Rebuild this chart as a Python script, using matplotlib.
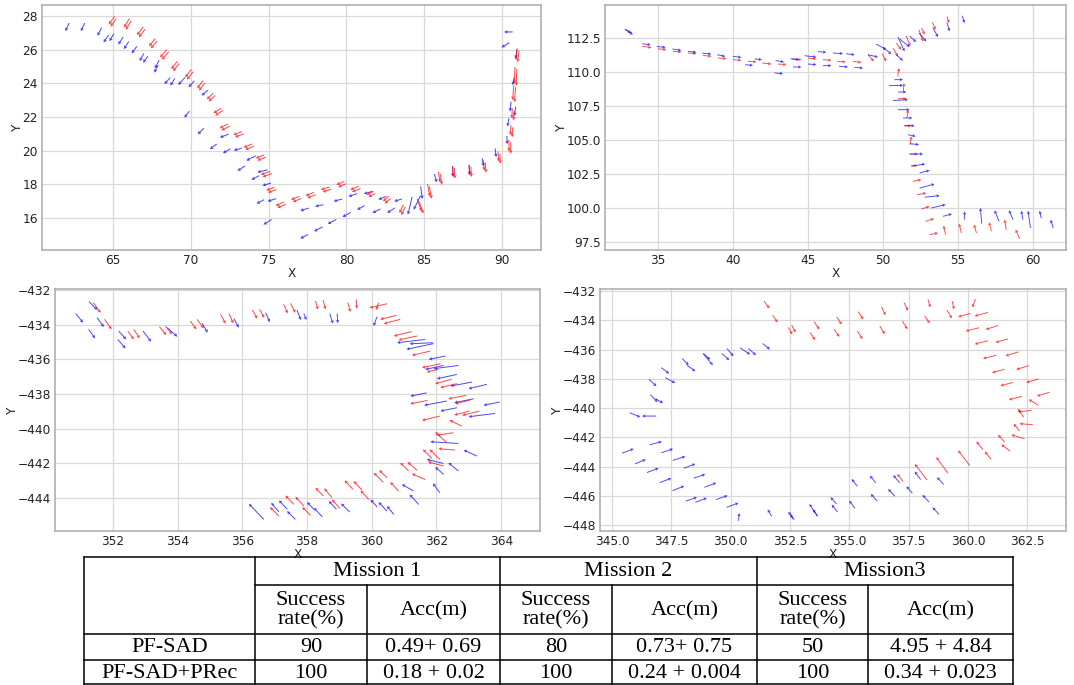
import matplotlib
matplotlib.use("Agg")
import matplotlib.pyplot as plt
from matplotlib.ticker import MultipleLocator, ScalarFormatter
from matplotlib.transforms import ScaledTranslation

# ---------------- data: panel 1 ----------------
p1_blue_x = [61.95, 62.95, 64.01, 64.40, 64.78, 65.35, 65.71, 66.21, 66.72, 66.94, 67.69, 67.65, 68.31, 68.69, 69.20, 69.86, 70.70, 69.59, 70.45, 71.23, 71.87, 72.07, 72.77, 73.00, 73.57, 73.90, 74.28, 74.61, 74.23, 74.94, 74.67, 77.04, 77.92, 78.80, 79.75, 80.68, 81.67, 82.62, 77.04, 77.99, 79.18, 80.13, 81.12, 82.05, 83.07, 83.95, 84.32, 84.88, 85.80, 86.86, 87.92, 88.81, 89.62, 90.33, 90.35, 90.80, 90.51, 90.68, 90.88, 90.13, 89.96]
p1_blue_y = [27.09, 27.09, 26.82, 26.42, 26.50, 26.30, 26.03, 25.77, 25.32, 25.22, 24.88, 24.63, 23.95, 23.86, 23.90, 23.76, 23.26, 21.96, 20.97, 20.09, 20.78, 19.85, 20.01, 18.80, 19.41, 18.27, 18.72, 17.92, 16.85, 16.99, 15.61, 14.78, 15.21, 15.65, 16.06, 16.49, 16.30, 16.30, 16.43, 16.69, 16.99, 17.28, 17.44, 17.09, 16.99, 16.20, 16.49, 17.13, 18.11, 18.43, 18.53, 19.06, 19.61, 20.38, 21.43, 22.06, 22.32, 23.89, 25.47, 27.05, 26.13]
p1_blue_u = [-0.24, -0.24, -0.27, -0.33, -0.29, -0.31, -0.31, -0.33, -0.27, -0.31, -0.29, -0.27, -0.38, -0.29, -0.44, -0.38, -0.40, -0.33, -0.40, -0.44, -0.57, -0.49, -0.51, -0.51, -0.60, -0.49, -0.66, -0.55, -0.49, -0.55, -0.53, -0.49, -0.55, -0.55, -0.53, -0.49, -0.51, -0.49, -0.55, -0.53, -0.55, -0.55, -0.55, -0.51, -0.49, -0.27, -0.44, 0.11, 0.15, 0.04, 0.04, 0.09, 0.07, 0.02, -0.09, -0.07, -0.07, -0.09, -0.07, -0.55, -0.51]
p1_blue_v = [-0.49, -0.49, -0.49, -0.45, -0.45, -0.45, -0.45, -0.43, -0.45, -0.39, -0.49, -0.45, -0.39, -0.43, -0.45, -0.39, -0.34, -0.39, -0.36, -0.30, -0.20, -0.26, -0.14, -0.30, -0.28, -0.24, -0.14, -0.16, -0.24, -0.16, -0.30, -0.24, -0.26, -0.26, -0.28, -0.24, -0.24, -0.30, -0.16, -0.10, -0.14, -0.16, -0.14, -0.20, -0.14, -1.05, -0.83, -0.75, -0.51, -0.63, -0.63, -0.49, -0.53, -0.49, -0.49, -0.55, -0.59, -0.45, -0.53, 0.0, -0.28]

p1_red_x = [64.73, 65.71, 66.55, 67.32, 68.03, 68.75, 69.64, 70.41, 71.03, 71.45, 71.85, 72.73, 73.39, 74.17, 74.50, 74.85, 75.45, 76.44, 77.37, 78.36, 79.36, 80.24, 81.30, 82.34, 83.40, 84.83, 85.36, 86.02, 86.86, 87.92, 88.85, 89.78, 90.44, 90.53, 90.62, 90.68, 90.79, 90.88]
p1_red_y = [27.49, 27.31, 26.86, 26.20, 25.53, 24.84, 24.35, 23.70, 23.05, 22.22, 21.33, 20.93, 20.18, 19.55, 18.57, 17.64, 16.73, 17.09, 17.32, 17.68, 17.97, 17.68, 17.38, 16.99, 16.30, 16.40, 17.28, 18.11, 18.47, 18.57, 18.82, 19.36, 19.95, 20.93, 21.92, 23.01, 23.99, 25.38]
p1_red_u = [-0.38, -0.35, -0.40, -0.40, -0.44, -0.40, -0.40, -0.38, -0.42, -0.51, -0.55, -0.55, -0.55, -0.55, -0.60, -0.53, -0.55, -0.55, -0.55, -0.55, -0.51, -0.55, -0.44, -0.38, -0.27, 0.29, 0.15, 0.11, 0.04, 0.04, 0.04, 0.04, 0.0, -0.04, -0.04, -0.07, -0.04, -0.09]
p1_red_v = [-0.49, -0.53, -0.49, -0.45, -0.47, -0.47, -0.47, -0.45, -0.36, -0.30, -0.26, -0.20, -0.22, -0.20, -0.20, -0.18, -0.22, -0.20, -0.20, -0.16, -0.20, -0.20, -0.20, -0.30, -0.49, -0.73, -0.73, -0.65, -0.63, -0.59, -0.59, -0.59, -0.69, -0.59, -0.59, -0.89, -0.99, -0.69]

# ---------------- data: panel 2 ----------------
p2_blue_x = [34.51, 35.51, 36.56, 37.56, 38.56, 39.49, 40.56, 41.33, 41.93, 43.40, 43.33, 44.40, 44.56, 45.56, 45.56, 46.22, 46.56, 47.33, 47.67, 48.11, 48.67, 49.67, 50.22, 50.56, 51.33, 51.44, 52.22, 52.89, 53.67, 54.44, 55.44, 51.78, 51.33, 51.33, 51.56, 51.67, 51.78, 51.96, 52.11, 52.18, 52.40, 52.67, 52.82, 53.11, 53.44, 53.78, 54.18, 54.60, 55.44, 56.49, 57.44, 58.40, 59.22, 59.67, 60.44, 61.18, 33.33, 33.22]
p2_blue_y = [112.01, 111.81, 111.59, 111.45, 111.32, 111.15, 111.08, 110.49, 110.91, 110.74, 109.88, 110.91, 110.37, 111.10, 110.54, 111.45, 110.47, 111.35, 110.37, 111.27, 110.29, 111.10, 111.64, 111.32, 110.83, 111.52, 112.21, 112.25, 112.57, 112.99, 113.60, 111.84, 109.44, 109.02, 108.53, 107.97, 107.23, 106.62, 106.05, 105.27, 104.66, 103.97, 103.24, 102.77, 101.76, 100.91, 100.25, 99.56, 99.75, 100.00, 99.83, 99.83, 99.80, 99.80, 99.80, 99.14, 112.75, 112.87]
p2_blue_u = [0.56, 0.58, 0.60, 0.56, 0.60, 0.53, 0.56, 0.51, 0.49, 0.56, 0.56, 0.56, 0.56, 0.78, 0.56, 0.56, 0.56, 0.67, 0.60, 0.56, 0.56, 0.67, 0.67, 0.56, 0.44, 0.44, 0.44, 0.49, 0.33, 0.18, 0.16, 0.67, 0.56, 0.93, 0.56, 1.00, 0.78, 0.62, 0.67, 0.51, 0.62, 0.89, 0.93, 0.67, 1.00, 1.00, 0.96, 0.60, 0.0, -0.09, -0.29, -0.27, -0.11, -0.16, -0.11, -0.16, 0.49, 0.44]
p2_blue_v = [-0.07, -0.07, -0.10, -0.07, -0.07, -0.12, -0.07, -0.05, -0.05, -0.10, -0.05, -0.07, 0.0, -0.10, -0.05, -0.05, 0.0, -0.05, -0.05, -0.07, -0.05, -0.17, -0.42, -0.49, -0.44, -1.05, -0.42, -0.61, -0.66, -0.66, -0.54, -0.59, 0.0, 0.02, 0.0, 0.07, 0.0, 0.0, 0.0, -0.12, -0.07, 0.0, 0.17, 0.20, 0.29, 0.12, 0.25, 0.17, 0.61, 1.15, 0.81, 0.69, 0.66, 1.27, 0.54, 0.61, -0.37, -0.29]

p2_red_x = [34.56, 35.56, 36.56, 37.56, 38.56, 39.56, 40.56, 41.56, 42.56, 43.56, 44.56, 45.56, 46.56, 47.51, 48.56, 49.40, 50.22, 51.00, 51.22, 51.82, 52.67, 53.51, 54.40, 52.78, 51.56, 51.89, 52.33, 52.29, 52.56, 52.89, 53.11, 51.07, 51.40, 51.67, 51.89, 53.40, 53.67, 54.04, 55.07, 56.07, 57.07, 58.11, 58.84]
p2_red_y = [111.81, 111.64, 111.47, 111.35, 111.15, 110.98, 110.86, 110.74, 110.59, 110.54, 110.91, 110.96, 110.86, 110.74, 110.71, 110.78, 110.78, 111.15, 111.64, 111.89, 112.25, 113.11, 113.60, 112.75, 108.04, 106.05, 103.97, 103.11, 102.08, 101.10, 100.12, 110.29, 109.19, 107.23, 105.27, 99.22, 98.16, 98.70, 98.85, 98.77, 98.95, 99.14, 98.41]
p2_red_u = [0.60, 0.56, 0.56, 0.56, 0.56, 0.56, 0.56, 0.56, 0.60, 0.56, 0.60, 0.56, 0.56, 0.56, 0.56, 0.40, 0.27, 0.33, 0.33, 0.27, 0.27, 0.22, 0.13, 0.22, 0.56, 0.49, 0.56, 0.40, 0.56, 0.62, 0.56, 0.09, 0.04, 0.07, 0.07, 0.56, 0.56, -0.13, -0.16, -0.16, -0.16, -0.11, -0.27]
p2_red_v = [-0.07, -0.07, -0.05, -0.05, -0.07, -0.05, -0.05, -0.05, -0.07, -0.05, -0.05, -0.07, -0.05, -0.05, -0.07, -0.49, -0.56, -0.61, -0.49, -0.78, -0.86, -0.54, -0.49, -0.49, 0.0, 0.0, 0.0, 0.0, 0.12, 0.12, 0.20, 0.61, 0.61, 0.61, 0.61, 0.20, 0.12, 0.66, 0.69, 0.61, 0.66, 0.74, 0.69]

# ---------------- data: panel 3 ----------------
p3_blue_x = [351.08, 351.45, 351.52, 351.72, 352.39, 352.41, 353.18, 353.99, 354.93, 355.89, 356.85, 357.81, 357.98, 358.80, 358.95, 360.06, 360.78, 361.17, 361.07, 361.76, 361.65, 361.91, 362.01, 362.43, 362.99, 361.19, 361.62, 362.12, 362.55, 363.45, 362.99, 361.81, 362.84, 361.70, 361.96, 362.37, 361.89, 360.93, 361.17, 359.96, 360.21, 360.47, 359.05, 358.67, 358.21, 358.00, 357.13, 356.89, 357.38, 356.20]
p3_blue_y = [-433.88, -434.79, -433.15, -434.13, -435.37, -434.85, -434.98, -434.69, -434.46, -434.17, -433.85, -433.73, -433.73, -433.94, -433.92, -434.08, -435.04, -435.10, -435.42, -436.00, -436.58, -436.54, -437.12, -437.54, -437.69, -438.12, -438.65, -438.98, -438.50, -438.65, -439.31, -440.75, -441.23, -441.77, -442.21, -441.96, -443.15, -443.21, -443.79, -444.08, -444.23, -444.46, -444.31, -444.17, -444.56, -444.23, -444.13, -444.27, -444.75, -444.33]
p3_blue_u = [0.23, 0.20, 0.26, 0.21, 0.24, 0.23, 0.25, 0.31, 0.17, 0.15, 0.13, 0.12, 0.08, 0.10, 0.02, -0.10, -0.87, -0.72, -0.84, -0.51, -0.57, -0.77, -0.62, -0.67, -0.57, -0.51, -0.70, -0.51, -0.60, -0.51, -0.82, -0.87, -0.41, -0.51, -0.26, -0.31, -0.21, -0.36, -0.28, -0.21, -0.26, -0.21, -0.27, -0.24, -0.26, -0.21, -0.26, -0.24, -0.26, -0.46]
p3_blue_v = [-0.52, -0.52, -0.48, -0.54, -0.52, -0.48, -0.62, -0.52, -0.54, -0.52, -0.54, -0.58, -0.37, -0.58, -0.56, -0.54, -0.19, -0.06, -0.33, -0.19, -0.23, -0.19, -0.25, -0.23, -0.25, -0.19, -0.25, -0.19, -0.23, -0.19, -0.19, 0.10, 0.35, 0.23, 0.42, 0.48, 0.54, 0.38, 0.58, 0.44, 0.52, 0.48, 0.50, 0.48, 0.52, 0.42, 0.52, 0.52, 0.48, 0.90]

p3_red_x = [351.62, 351.96, 352.65, 352.83, 353.65, 353.83, 354.58, 354.81, 355.48, 355.72, 356.46, 356.68, 357.40, 357.64, 358.34, 358.57, 359.34, 359.54, 359.93, 360.14, 360.26, 360.37, 360.68, 360.83, 361.24, 361.55, 361.70, 361.96, 362.12, 362.37, 362.58, 361.19, 361.55, 362.55, 362.79, 362.40, 362.01, 361.96, 362.06, 361.58, 361.79, 361.74, 360.88, 361.11, 361.24, 360.06, 360.23, 360.57, 359.16, 359.44, 359.65, 358.26, 358.53, 358.77, 357.33, 357.64, 357.85, 356.85]
p3_red_y = [-433.31, -434.27, -434.85, -434.79, -434.60, -434.56, -434.27, -434.21, -433.94, -433.92, -433.65, -433.60, -433.35, -433.31, -433.13, -433.12, -433.27, -433.08, -433.02, -433.15, -433.69, -433.94, -434.65, -434.88, -435.77, -436.48, -436.73, -437.40, -437.63, -438.27, -438.56, -438.56, -439.52, -439.21, -439.23, -439.50, -440.38, -440.19, -441.15, -441.19, -441.19, -441.92, -441.96, -441.92, -442.60, -442.54, -442.38, -443.08, -442.98, -443.02, -443.56, -443.40, -443.44, -444.08, -443.85, -443.92, -444.52, -444.52]
p3_red_u = [0.23, 0.22, 0.19, 0.19, 0.21, 0.21, 0.19, 0.21, 0.15, 0.13, 0.15, 0.15, 0.12, 0.15, 0.08, 0.07, 0.08, 0.02, -0.54, -0.07, -0.51, -0.51, -0.55, -0.57, -0.57, -0.57, -0.36, -0.51, -0.51, -0.55, -0.46, -0.54, -0.55, -0.47, -0.54, -0.38, -0.51, -0.36, -0.51, -0.28, -0.31, -0.48, -0.26, -0.29, -0.41, -0.29, -0.24, -0.26, -0.26, -0.26, -0.26, -0.24, -0.24, -0.24, -0.26, -0.26, -0.26, -0.28]
p3_red_v = [-0.58, -0.58, -0.48, -0.52, -0.48, -0.48, -0.48, -0.52, -0.54, -0.56, -0.50, -0.48, -0.52, -0.54, -0.50, -0.54, -0.54, -0.54, -0.23, -0.42, -0.23, -0.25, -0.25, -0.23, -0.25, -0.23, -0.15, -0.25, -0.23, -0.19, -0.21, -0.19, -0.25, -0.23, -0.25, 0.35, -0.15, 0.62, 0.08, 0.52, 0.58, 0.23, 0.48, 0.48, 0.33, 0.54, 0.44, 0.52, 0.52, 0.52, 0.52, 0.48, 0.54, 0.52, 0.52, 0.54, 0.48, 0.52]

# ---------------- data: panel 4 ----------------
p4_red_x = [351.63, 351.98, 352.60, 352.74, 353.56, 353.74, 354.58, 354.68, 355.56, 355.59, 356.50, 356.53, 357.45, 357.48, 358.39, 358.42, 359.33, 359.42, 360.19, 359.59, 360.29, 359.91, 360.75, 360.29, 361.17, 360.64, 361.59, 361.02, 362.04, 361.37, 362.46, 361.73, 362.91, 362.57, 362.11, 362.11, 362.18, 361.93, 361.83, 361.27, 361.41, 360.36, 360.71, 359.59, 358.67, 357.76, 357.02]
p4_red_y = [-433.19, -434.15, -434.97, -434.83, -435.36, -434.63, -435.13, -434.29, -435.29, -433.94, -434.95, -433.65, -434.61, -433.35, -434.22, -433.12, -433.87, -433.26, -433.12, -433.76, -433.71, -434.74, -434.63, -435.63, -435.52, -436.62, -436.43, -437.58, -437.37, -438.47, -438.26, -439.43, -439.18, -439.41, -440.27, -440.05, -441.07, -441.07, -441.83, -441.83, -442.49, -442.29, -442.97, -442.90, -443.36, -443.82, -444.50]
p4_red_u = [0.22, 0.21, 0.17, 0.17, 0.21, 0.22, 0.22, 0.21, 0.22, 0.21, 0.21, 0.17, 0.21, 0.17, 0.21, 0.10, 0.21, 0.08, -0.13, -0.52, -0.56, -0.56, -0.52, -0.56, -0.52, -0.56, -0.55, -0.53, -0.53, -0.53, -0.53, -0.56, -0.53, -0.41, -0.56, -0.24, -0.56, -0.25, -0.56, -0.28, -0.38, -0.28, -0.28, -0.49, -0.49, -0.52, -0.25]
p4_red_v = [-0.50, -0.50, -0.48, -0.50, -0.53, -0.53, -0.53, -0.53, -0.55, -0.53, -0.55, -0.57, -0.55, -0.55, -0.53, -0.55, -0.57, -0.57, -0.57, -0.23, -0.25, -0.23, -0.27, -0.23, -0.25, -0.23, -0.27, -0.23, -0.27, -0.21, -0.25, -0.23, -0.25, 0.41, -0.11, 0.57, 0.07, 0.50, 0.27, 0.50, 0.46, 0.55, 0.55, 1.03, 1.10, 1.10, 0.53]

p4_blue_x = [351.66, 351.07, 350.82, 350.12, 349.94, 349.25, 349.14, 348.51, 348.23, 347.41, 347.66, 346.87, 346.92, 347.15, 346.19, 346.26, 345.91, 347.10, 346.42, 347.57, 346.96, 348.09, 347.50, 348.51, 348.04, 348.93, 348.58, 349.39, 349.00, 349.87, 350.33, 350.36, 351.56, 352.43, 352.53, 353.32, 353.46, 354.21, 354.26, 355.00, 355.10, 355.87, 355.91, 356.64, 356.85, 357.41, 357.76, 358.09, 358.70, 358.51]
p4_blue_y = [-436.00, -436.39, -436.34, -436.46, -436.73, -437.07, -436.69, -437.49, -437.07, -437.65, -438.29, -438.51, -439.59, -439.66, -440.62, -440.55, -442.79, -442.29, -443.52, -442.79, -444.11, -443.31, -444.80, -443.82, -445.33, -444.53, -446.10, -445.12, -446.15, -445.99, -446.49, -447.18, -446.93, -447.09, -447.25, -446.56, -446.93, -446.10, -446.61, -446.33, -444.85, -444.62, -445.87, -445.53, -444.59, -445.35, -444.34, -445.94, -444.73, -446.79]
p4_blue_u = [0.31, 0.32, 0.42, 0.28, 0.31, 0.42, 0.28, 0.35, 0.28, 0.34, 0.42, 0.32, 0.31, 0.32, 0.45, -0.60, 0.49, 0.52, 0.46, 0.49, 0.49, 0.53, 0.49, 0.49, 0.49, 0.49, 0.48, 0.50, 0.49, 0.49, 0.50, 0.03, -0.17, -0.25, -0.08, -0.34, -0.20, -0.25, -0.24, -0.24, -0.24, -0.25, -0.27, -0.28, -0.28, -0.25, -0.25, -0.28, -0.28, -0.27]
p4_blue_v = [-0.41, -0.46, -0.46, -0.53, -0.46, -0.80, -0.41, -0.41, -0.46, -0.41, -0.37, -0.48, -0.50, -0.30, -0.30, 0.0, 0.30, 0.23, 0.30, 0.27, 0.30, 0.27, 0.30, 0.30, 0.32, 0.27, 0.27, 0.30, 0.30, 0.27, 0.30, 0.53, 0.48, 0.55, 0.34, 0.85, 0.43, 0.46, 0.50, 0.53, 0.50, 0.50, 0.50, 0.50, 0.53, 0.48, 0.55, 0.50, 0.50, 0.48]

# ---------------- table data ----------------
missions = ["Mission 1", "Mission 2", "Mission3"]
sub_headers = ["Success\nrate(%)", "Acc(m)"]
methods = ["PF-SAD", "PF-SAD+PRec"]
success_rate = [[90, 80, 50], [100, 100, 100]]
accuracy = [["0.49+ 0.69", "0.73+ 0.75", "4.95 + 4.84"],
            ["0.18 + 0.02", "0.24 + 0.004", "0.34 + 0.023"]]

# ---------------- figure ----------------
W, H = 1074, 685
fig = plt.figure(figsize=(W / 100, H / 100), dpi=100)

def px_axes(l, t, r, b):
    return fig.add_axes([l / W, 1 - b / H, (r - l) / W, (b - t) / H])

def style(ax, xlim, ylim, xstep, ystep):
    ax.set_xlim(*xlim)
    ax.set_ylim(*ylim)
    ax.xaxis.set_major_locator(MultipleLocator(xstep))
    ax.yaxis.set_major_locator(MultipleLocator(ystep))
    for axis in (ax.xaxis, ax.yaxis):
        axis.set_major_formatter(ScalarFormatter(useOffset=False))
    ax.grid(True, color="#d9d9d9", lw=0.9)
    ax.set_axisbelow(True)
    for s in ax.spines.values():
        s.set_color("#b0b0b0")
        s.set_linewidth(1.2)
    ax.tick_params(length=0, labelsize=8.7, pad=3, labelcolor="#222222")
    ax.set_xlabel("X", fontsize=8.7, labelpad=0, color="#222222")
    ax.set_ylabel("Y", fontsize=8.7, labelpad=-1, color="#222222")

qkw = dict(angles="xy", scale_units="xy", scale=1, pivot="tip",
           width=0.002, headwidth=3.6, headlength=3.4, headaxislength=3.1,
           alpha=0.72, zorder=3)

# panel 1
ax1 = px_axes(42, 5, 541, 250)
style(ax1, (60.45, 92.5), (14.1, 28.65), 5, 2)
ax1.quiver(p1_blue_x, p1_blue_y, p1_blue_u, p1_blue_v, color="blue", **qkw)
ax1.quiver(p1_red_x, p1_red_y, p1_red_u, p1_red_v, color="red", **qkw)
shift = ax1.transData + ScaledTranslation(1.3 / 72, -1.6 / 72, fig.dpi_scale_trans)
ax1.quiver(p1_red_x, p1_red_y, p1_red_u, p1_red_v, color="red", transform=shift, **qkw)

# panel 2
ax2 = px_axes(605, 5, 1066, 250)
style(ax2, (31.47, 62.2), (96.91, 114.93), 5, 2.5)
ax2.quiver(p2_red_x, p2_red_y, p2_red_u, p2_red_v, color="red", **qkw)
ax2.quiver(p2_blue_x, p2_blue_y, p2_blue_u, p2_blue_v, color="blue", **qkw)

# panel 3
ax3 = px_axes(55, 289, 540, 531)
style(ax3, (350.21, 365.2), (-445.9, -431.94), 2, 2)
ax3.quiver(p3_blue_x, p3_blue_y, p3_blue_u, p3_blue_v, color="blue", **qkw)
ax3.quiver(p3_red_x, p3_red_y, p3_red_u, p3_red_v, color="red", **qkw)

# panel 4
ax4 = px_axes(600, 289, 1066, 531)
style(ax4, (344.49, 364.14), (-448.41, -431.86), 2.5, 2)
ax4.quiver(p4_blue_x, p4_blue_y, p4_blue_u, p4_blue_v, color="blue", **qkw)
ax4.quiver(p4_red_x, p4_red_y, p4_red_u, p4_red_v, color="red", **qkw)

# ---------------- table ----------------
tab = fig.add_axes([0, 0, 1, 1], zorder=5)
tab.set_xlim(0, W)
tab.set_ylim(H, 0)
tab.axis("off")
tab.patch.set_alpha(0)

cols = [84, 255, 367, 500, 612, 757, 868, 1013]
rows = [557, 585, 634, 660, 684]
lk = dict(color="black", lw=1.1)
tab.plot([cols[0], cols[-1]], [rows[0], rows[0]], **lk)
tab.plot([cols[1], cols[-1]], [rows[1], rows[1]], **lk)
for r in rows[2:]:
    tab.plot([cols[0], cols[-1]], [r, r], **lk)
for i, c in enumerate(cols):
    top = rows[1] if i in (2, 4, 6) else rows[0]
    tab.plot([c, c], [top, rows[-1]], **lk)

tfont = dict(family="Liberation Serif", fontsize=16, color="black",
             ha="center", va="center")
for m, name in enumerate(missions):
    c0, c1, c2 = cols[1 + 2 * m], cols[2 + 2 * m], cols[3 + 2 * m]
    tab.text((c0 + c2) / 2, (rows[0] + rows[1]) / 2 + 1, name, **tfont)
    tab.text((c0 + c1) / 2, (rows[1] + rows[2]) / 2 + 1, sub_headers[0],
             linespacing=1.05, **tfont)
    tab.text((c1 + c2) / 2, (rows[1] + rows[2]) / 2 + 1, sub_headers[1], **tfont)
    for r in range(len(methods)):
        yc = (rows[2 + r] + rows[3 + r]) / 2 + 1
        tab.text((c0 + c1) / 2, yc, str(success_rate[r][m]), **tfont)
        tab.text((c1 + c2) / 2, yc, accuracy[r][m], **tfont)
for r, meth in enumerate(methods):
    yc = (rows[2 + r] + rows[3 + r]) / 2 + 1
    tab.text((cols[0] + cols[1]) / 2, yc, meth, **tfont)

fig.savefig("out.png", dpi=100)
